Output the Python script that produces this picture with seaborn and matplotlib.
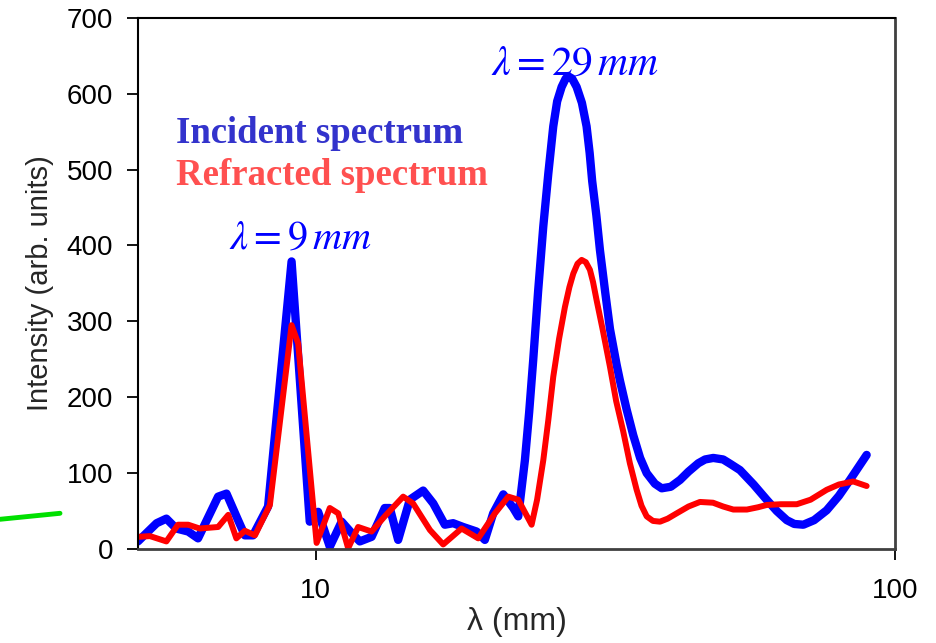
import numpy as np
import pandas as pd
import seaborn as sns
import matplotlib.pyplot as plt
from matplotlib.lines import Line2D
from matplotlib.ticker import NullLocator

# wavelength (mm) and intensity
inc_wl = [4.93, 5.10, 5.31, 5.52, 5.74, 6.02, 6.26, 6.78, 7.01, 7.34, 7.54, 7.79,
          8.27, 9.08, 9.76, 10.09, 10.57, 11.08, 11.53, 11.91, 12.48, 13.15, 13.42,
          13.87, 14.53, 15.32, 15.95, 16.70, 17.26, 17.96, 18.95, 19.58, 20.24,
          21.07, 21.92, 22.36, 22.96, 23.35, 23.73, 24.20, 24.70, 25.20, 25.70,
          26.10, 26.57, 27.00, 27.28, 27.70, 28.20, 28.80, 29.34, 29.70, 30.00,
          30.50, 30.94, 31.60, 32.20, 33.06, 33.50, 34.40, 35.32, 36.30, 37.26,
          38.50, 39.55, 41.00, 42.54, 44.00, 45.75, 47.00, 48.55, 50.50, 52.00,
          53.99, 57.00, 60.03, 62.50, 65.03, 67.00, 69.46, 72.50, 76.21, 80.00,
          83.59, 86.50, 89.34]
inc_int = [10, 21, 34, 40, 27, 23, 14, 69, 73, 38, 18, 18,
           56, 379, 36, 49, 3, 36, 21, 10, 16, 54, 54,
           12, 65, 77, 60, 32, 34, 29, 23, 12, 47,
           72, 54, 43, 117, 180, 249, 340, 425, 495, 557,
           590, 609, 620, 623, 620, 609, 588, 557, 522, 485,
           440, 394, 338, 290, 243, 222, 184, 150, 120, 100,
           86, 80, 82, 91, 102, 113, 118, 120, 118, 112,
           104, 85, 65, 50, 38, 33, 32, 38, 51, 70,
           91, 108, 124]

ref_wl = [4.93, 5.17, 5.52, 5.78, 6.02, 6.30, 6.78, 7.06, 7.29, 7.54, 7.85, 8.33,
          9.08, 9.32, 10.03, 10.57, 10.93, 11.37, 11.83, 12.48, 13.15, 14.15, 14.72,
          15.74, 16.59, 17.85, 19.07, 20.38, 21.49, 22.36, 22.90, 23.58, 24.10,
          24.70, 25.20, 25.70, 26.30, 26.92, 27.40, 27.83, 28.30, 28.77, 29.25,
          29.73, 30.10, 30.53, 31.30, 32.20, 33.00, 33.94, 34.85, 35.80, 36.50,
          37.26, 38.20, 39.28, 40.50, 41.98, 44.00, 46.05, 48.50, 50.50, 52.58,
          55.50, 58.00, 60.03, 63.50, 67.67, 71.50, 76.21, 80.00, 84.72, 89.34]
ref_int = [16, 17, 10, 32, 32, 27, 29, 45, 14, 24, 18, 58,
           295, 271, 8, 54, 47, 1, 29, 23, 43, 69, 60,
           25, 6, 27, 14, 47, 69, 65, 50, 32, 65,
           117, 170, 227, 277, 319, 345, 363, 376, 381, 378,
           368, 352, 328, 288, 240, 195, 155, 113, 78, 57,
           43, 37, 36, 40, 47, 56, 62, 61, 56, 52,
           52, 55, 58, 59, 59, 65, 78, 85, 89, 83]

y_ticks = [0, 100, 200, 300, 400, 500, 600, 700]
x_ticks = [10, 100]

inc = pd.DataFrame({'wl': inc_wl, 'I': inc_int})
ref = pd.DataFrame({'wl': ref_wl, 'I': ref_int})

sns.set_style("white")
plt.rcParams['font.family'] = ['Liberation Sans', 'DejaVu Sans']
plt.rcParams['mathtext.fontset'] = 'stix'

fig = plt.figure(figsize=(9.36, 6.43), dpi=100)
ax = fig.add_axes([0.1474, 0.1462, 0.8088, 0.826])

sns.lineplot(data=inc, x='wl', y='I', ax=ax, color='#0000FF', linewidth=6,
             sort=False, estimator=None, solid_joinstyle='round')
sns.lineplot(data=ref, x='wl', y='I', ax=ax, color='#FF0000', linewidth=4.3,
             sort=False, estimator=None, solid_joinstyle='round')

ax.set_xscale('log')
ax.set_xlim(4.93, 100)
ax.set_ylim(0, 700)
ax.set_xticks(x_ticks)
ax.set_xticklabels([str(t) for t in x_ticks])
ax.xaxis.set_minor_locator(NullLocator())
ax.set_yticks(y_ticks)
ax.tick_params(axis='both', direction='out', length=8, width=1.3, labelsize=20,
               colors='black')
ax.tick_params(axis='x', pad=13)
ax.tick_params(axis='y', pad=10)
ax.tick_params(left=True, bottom=True)

for side in ['top', 'left']:
    ax.spines[side].set_color('black')
    ax.spines[side].set_linewidth(1.5)
for side in ['bottom', 'right']:
    ax.spines[side].set_color('#404040')
    ax.spines[side].set_linewidth(2)

ax.set_xlabel('λ (mm)', fontsize=23, labelpad=2)
ax.set_ylabel('Intensity (arb. units)', fontsize=21, labelpad=9)

# annotations
ax.text(0.05, 0.765, 'Incident spectrum', transform=ax.transAxes, fontsize=26.5,
        fontweight='bold', family='Liberation Serif', color='#3333CC')
ax.text(0.05, 0.685, 'Refracted spectrum', transform=ax.transAxes, fontsize=26.5,
        fontweight='bold', family='Liberation Serif', color='#FF5050')
ax.text(9.38, 396, r'$\lambda = 9\,mm$', fontsize=29, color='#0000FF', ha='center')
ax.text(28.0, 626, r'$\lambda = 29\,mm$', fontsize=30, color='#0000FF', ha='center')

# stray green stroke at the left edge
fig.add_artist(Line2D([0.0, 0.0641], [0.1924, 0.2017], transform=fig.transFigure,
                      color='#00E000', linewidth=3.5))

plt.savefig('out.png', dpi=100)
